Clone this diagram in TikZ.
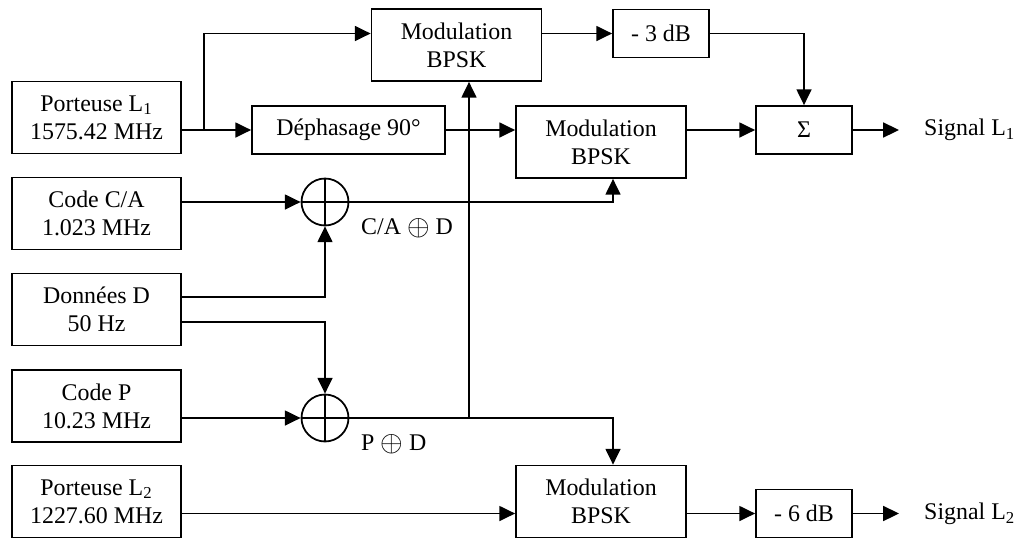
\documentclass[tikz,border=0pt]{standalone}
\usepackage{fontspec}
\usepackage{graphicx}
\setmainfont{Liberation Serif}
\usetikzlibrary{arrows.meta, positioning}

\newcommand{\xorsign}{\raisebox{-0.05ex}{\scalebox{1.15}{$\oplus$}}}

\tikzset{
  srcbox/.style={draw, line width=1pt, align=center, minimum width=3.38cm, minimum height=1.44cm, inner sep=1pt},
  modbox/.style={draw, line width=1pt, align=center, minimum width=3.4cm, minimum height=1.44cm, inner sep=1pt},
  attbox/.style={draw, line width=1pt, align=center, minimum width=1.92cm, minimum height=0.96cm, inner sep=1pt},
  xorop/.style={draw, circle, line width=1pt, minimum size=0.94cm, inner sep=0pt},
  arr/.style={line width=1pt, -{Triangle[length=9pt,width=8.5pt]}},
  wire/.style={line width=1pt}
}

\begin{document}
\begin{tikzpicture}[x=0.02cm, y=-0.02cm, font=\fontsize{13.6}{16}\selectfont]
\useasboundingbox (0,0) rectangle (1023,538);
% sources on the left
\node[srcbox] (PL1) at (96.5,117.5) {Porteuse L\textsubscript{1}\\1575.42 MHz};
\node[srcbox] (CA) at (96.5,213.5) {Code C/A\\1.023 MHz};
\node[srcbox] (D) at (96.5,309.5) {Données D\\50 Hz};
\node[srcbox] (P) at (96.5,406) {Code P\\10.23 MHz};
\node[srcbox] (PL2) at (96.5,501.5) {Porteuse L\textsubscript{2}\\1227.60 MHz};
% L1 chain
\node[modbox] (Mod1) at (456.5,45) {Modulation\\BPSK};
\node[attbox] (dB3) at (661,33.5) {- 3 dB};
\node[draw, line width=1pt, minimum width=3.86cm, minimum height=0.96cm, inner sep=1pt] (Deph) at (348.5,130) {Déphasage 90°};
\node[modbox] (Mod2) at (601,142) {Modulation\\BPSK};
\node[attbox] (sum) at (804,130) {Σ};
\node[anchor=west] (sigA) at (918,130) {Signal L\textsubscript{1}};
% L2 chain
\node[modbox] (Mod3) at (601,501.5) {Modulation\\BPSK};
\node[attbox] (dB6) at (804,513.5) {- 6 dB};
\node[anchor=west] (sigB) at (918,513.5) {Signal L\textsubscript{2}};
% modulo-2 adders
\node[xorop] (X1) at (325,202) {};
\node[xorop] (X2) at (325,418) {};
\draw[wire] (X1.north) -- (X1.south) (X1.west) -- (X1.east);
\draw[wire] (X2.north) -- (X2.south) (X2.west) -- (X2.east);
\node[anchor=west] (lblA) at (355,228) {C/A \xorsign{} D};
\node[anchor=west] (lblB) at (355,444) {P \xorsign{} D};

\coordinate (br) at (204,130);
\coordinate (tap) at (469,418);
\coordinate (outA) at (899,130);
\coordinate (outB) at (899,513.5);

% carrier L1
\draw[arr] (PL1.east |- Deph.west) -- (Deph.west);
\draw[arr] (br) |- (Mod1.west |- dB3.west);
\draw[arr] (Mod1.east |- dB3.west) -- (dB3.west);
\draw[arr] (dB3.east) -| (sum.north);
\draw[arr] (Deph.east) -- (Mod2.west |- Deph.east);
\draw[arr] (Mod2.east |- sum.west) -- (sum.west);
\draw[arr] (sum.east) -- (outA);
% codes and data
\draw[arr] (CA.east |- X1.west) -- (X1.west);
\draw[arr] ([yshift=0.25cm]D.east) -| (X1.south);
\draw[arr] ([yshift=-0.25cm]D.east) -| (X2.north);
\draw[arr] (P.east |- X2.west) -- (X2.west);
\draw[arr] (X1.east) -| ([xshift=0.24cm]Mod2.south);
\draw[arr] (X2.east) -| ([xshift=0.24cm]Mod3.north);
\draw[arr] (tap) -- (tap |- Mod1.south);
% carrier L2
\draw[arr] (PL2.east |- dB6.west) -- (Mod3.west |- dB6.west);
\draw[arr] (Mod3.east |- dB6.west) -- (dB6.west);
\draw[arr] (dB6.east) -- (outB);
\end{tikzpicture}
\end{document}
